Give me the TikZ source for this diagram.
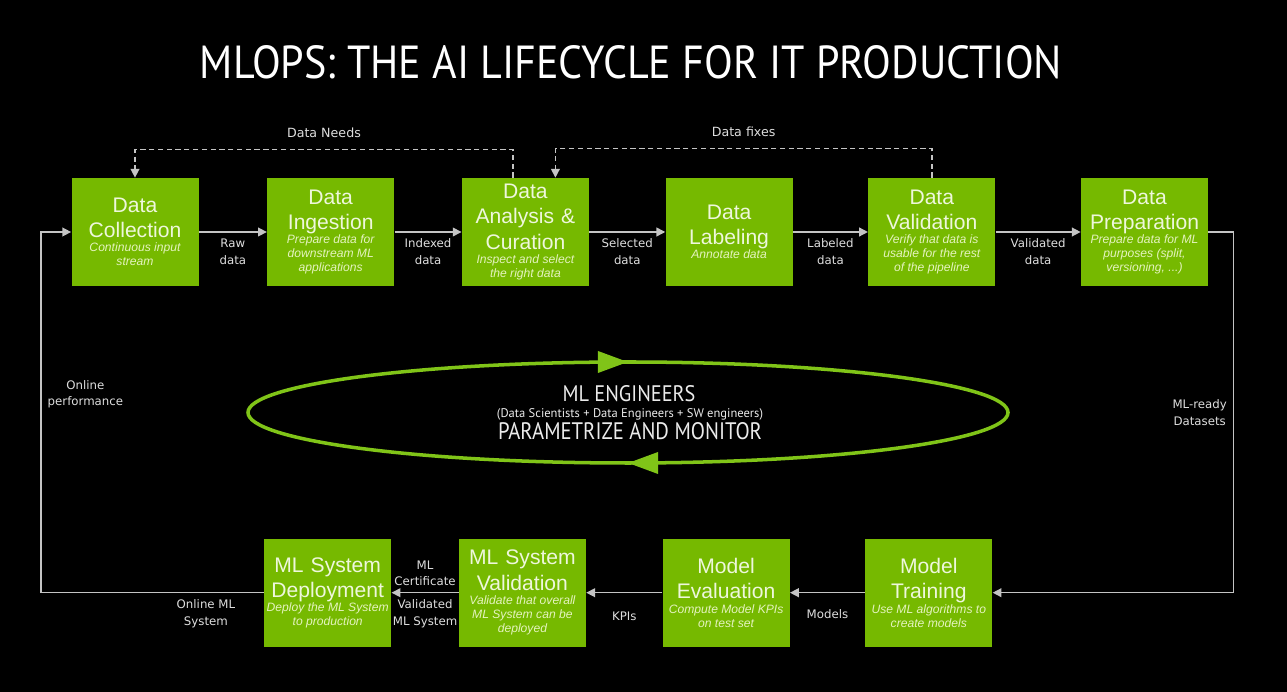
\documentclass[tikz,border=0pt]{standalone}
\usepackage{fontspec}
\usepackage{graphicx}
\setmainfont{Liberation Sans}
\newfontfamily\labelfont{DejaVu Sans}
\newfontfamily\headfont{PT Sans}
\usetikzlibrary{positioning,arrows.meta,decorations.markings}

\definecolor{nvgreen}{RGB}{118,185,0}
\definecolor{boxtext}{RGB}{238,247,220}
\definecolor{subtext}{RGB}{228,243,190}
\definecolor{linegray}{RGB}{196,196,196}
\definecolor{labelgray}{RGB}{222,222,222}
\definecolor{ringgreen}{RGB}{128,196,24}
\definecolor{crewwhite}{RGB}{235,235,235}

\tikzset{
  stagebox/.style={rectangle, fill=nvgreen, minimum width=2.54cm, minimum height=2.16cm, text width=2.54cm, inner sep=0pt, align=center, text=boxtext, font=\fontsize{12}{14.5}\selectfont},
  flow/.style={draw=linegray, line width=0.8pt, -{Triangle[length=5pt, width=5pt]}},
  feedback/.style={flow, dash pattern=on 3pt off 2pt},
  flowlabel/.style={font=\labelfont\fontsize{6.7}{9.6}\selectfont, text=labelgray, align=center},
  feedlabel/.style={flowlabel, font=\labelfont\fontsize{7.2}{9}\selectfont},
  ring/.style={ringgreen, line width=2pt},
  crewtext/.style={text=crewwhite, font=\headfont, inner sep=0pt},
}
\newcommand{\stagenote}[1]{\par{\centering\fontsize{6.9}{8}\selectfont\itshape\spaceskip=0pt\xspaceskip=0pt\color{subtext}#1\par}}

\begin{document}
\begin{tikzpicture}
    % Background
    \fill[black] (0,0) rectangle (25.74,-13.84);
    \useasboundingbox (0,0) rectangle (25.74,-13.84);

    % Title
    \node[text=white, inner sep=0pt, font=\headfont] (title) at (12.62,-1.24) {\resizebox{17.24cm}{0.66cm}{MLOPS: THE AI LIFECYCLE FOR IT PRODUCTION}};

    % Data pipeline (upper row)
    \node[stagebox] (dcol) at (2.7,-4.64) {Data\\Collection\stagenote{Continuous input\\stream}};
    \node[stagebox, right=1.36cm of dcol] (ding) {Data\\Ingestion\stagenote{Prepare data for\\downstream ML\\applications}};
    \node[stagebox, right=1.34cm of ding] (dcur) {Data\\Analysis \&\\Curation\stagenote{Inspect and select\\the right data}};
    \node[stagebox, right=1.52cm of dcur] (dlab) {Data\\Labeling\stagenote{Annotate data}};
    \node[stagebox, right=1.5cm of dlab] (dval) {Data\\Validation\stagenote{Verify that data is\\usable for the rest\\of the pipeline}};
    \node[stagebox, right=1.7cm of dval] (dprep) {Data\\Preparation\stagenote{Prepare data for ML\\purposes (split,\\versioning, ...)}};

    % Model pipeline (lower row)
    \node[stagebox, below=5.04cm of ding, xshift=-0.06cm] (mdep) {ML System\\Deployment\stagenote{Deploy the ML System\\to production}};
    \node[stagebox, right=1.34cm of mdep] (msys) {ML System\\Validation\stagenote{Validate that overall\\ML System can be\\deployed}};
    \node[stagebox, right=1.52cm of msys] (meval) {Model\\Evaluation\stagenote{Compute Model KPIs\\on test set}};
    \node[stagebox, right=1.5cm of meval] (mtrain) {Model\\Training\stagenote{Use ML algorithms to\\create models}};

    % Engineers loop
    \draw[ring, postaction={decorate, decoration={markings,
        mark=at position 0.25 with {\arrowreversed{Triangle[length=0.6cm, width=0.42cm]}},
        mark=at position 0.75 with {\arrowreversed{Triangle[length=0.6cm, width=0.42cm]}}}}]
        (12.56,-8.25) ellipse [x radius=7.6cm, y radius=1.01cm];
    \node[crewtext] (crew) at (12.58,-7.88) {\resizebox{2.66cm}{0.32cm}{ML ENGINEERS}};
    \node[crewtext] (crewroles) at (12.6,-8.28) {\resizebox{5.32cm}{!}{(Data Scientists + Data Engineers + SW engineers)}};
    \node[crewtext] (crewtask) at (12.6,-8.63) {\resizebox{5.28cm}{0.34cm}{PARAMETRIZE AND MONITOR}};

    % Connections, upper row
    \draw[flow] (dcol) -- node[below, flowlabel]{Raw\\data} (ding);
    \draw[flow] (ding) -- node[below, flowlabel]{Indexed\\data} (dcur);
    \draw[flow] (dcur) -- node[below, flowlabel]{Selected\\data} (dlab);
    \draw[flow] (dlab) -- node[below, flowlabel]{Labeled\\data} (dval);
    \draw[flow] (dval) -- node[below, flowlabel]{Validated\\data} (dprep);
    \draw[flow] (dprep.east) -- ++(0.5,0) |- node[pos=0.25, left, flowlabel]{ML-ready\\Datasets} (mtrain.east);

    % Connections, lower row
    \draw[flow] (mtrain) -- node[below, flowlabel, yshift=-0.2cm]{Models} (meval);
    \draw[flow] (meval) -- node[below, flowlabel, yshift=-0.25cm]{KPIs} (msys);
    \draw[flow] (msys) -- node[above, flowlabel]{ML\\Certificate} node[below, flowlabel]{Validated\\ML System} (mdep);
    \draw[flow] (mdep.west) -| node[pos=0.13, below, flowlabel]{Online ML\\System} node[pos=0.775, right, flowlabel]{Online\\performance} ([xshift=-0.6cm]dcol.west) -- (dcol.west);

    % Feedback
    \draw[feedback] ([xshift=-0.25cm]dcur.north) -- ++(0,0.56) -| node[pos=0.25, above, feedlabel, yshift=0.1cm]{Data Needs} (dcol.north);
    \draw[feedback] (dval.north) -- ++(0,0.58) -| node[pos=0.25, above, feedlabel, yshift=0.1cm]{Data fixes} ([xshift=0.6cm]dcur.north);
\end{tikzpicture}
\end{document}
